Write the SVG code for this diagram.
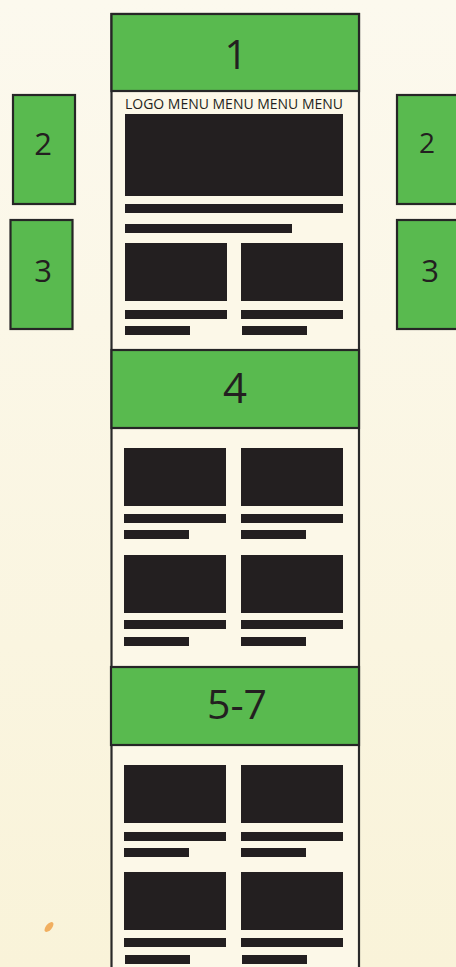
<svg xmlns="http://www.w3.org/2000/svg" width="456" height="967" viewBox="0 0 456 967">
<defs>
<linearGradient id="bg" x1="0" y1="0" x2="0" y2="1">
<stop offset="0" stop-color="#fcf9ee"/>
<stop offset="1" stop-color="#f9f3d9"/>
</linearGradient>
<style>
.box{fill:#59ba4f;stroke:#262626;stroke-width:2.2}
.panel{fill:#fcf8e8;stroke:#2a2a2a;stroke-width:2.2}
.blk{fill:#231f20}
.num{font-family:"Open Sans","Noto Sans",sans-serif;fill:#231f20;text-anchor:middle}
.lbl{font-family:"Open Sans","Noto Sans",sans-serif;fill:#231f20;font-size:15px}
</style>
</defs>
<rect x="0" y="0" width="456" height="967" fill="url(#bg)"/>
<ellipse cx="49" cy="927" rx="3" ry="6" transform="rotate(40 49 927)" fill="#f0a24a" opacity="0.85"/>

<g id="page">
<rect class="panel" x="111.5" y="14" width="247.5" height="960"/>
</g>

<g id="header-1">
<rect class="box" x="111.5" y="14" width="247.5" height="77"/>
<text class="num" x="236" y="69" font-size="40">1</text>
</g>

<g id="section-1-content">
<text class="lbl" x="125" y="109" textLength="218" lengthAdjust="spacingAndGlyphs">LOGO MENU MENU MENU MENU</text>
<rect class="blk" x="125" y="114" width="218" height="82"/>
<rect class="blk" x="125" y="204" width="218" height="9"/>
<rect class="blk" x="125" y="224" width="167" height="9"/>
<rect class="blk" x="125" y="243" width="102" height="58"/>
<rect class="blk" x="241" y="243" width="102" height="58"/>
<rect class="blk" x="125" y="310" width="102" height="9"/>
<rect class="blk" x="241" y="310" width="102" height="9"/>
<rect class="blk" x="125" y="326" width="65" height="9"/>
<rect class="blk" x="242" y="326" width="65" height="9"/>
</g>

<g id="left-2">
<rect class="box" x="13" y="95" width="62" height="109"/>
<text class="num" x="43" y="155" font-size="31">2</text>
</g>
<g id="left-3">
<rect class="box" x="10.5" y="220" width="62" height="109"/>
<text class="num" x="43" y="282" font-size="31">3</text>
</g>
<g id="right-2">
<rect class="box" x="397" y="95" width="62" height="109"/>
<text class="num" x="427" y="153" font-size="28">2</text>
</g>
<g id="right-3">
<rect class="box" x="397" y="220" width="62" height="109"/>
<text class="num" x="430" y="282" font-size="31">3</text>
</g>

<g id="header-4">
<rect class="box" x="111.5" y="350" width="247.5" height="78"/>
<text class="num" x="235" y="403" font-size="42">4</text>
</g>

<g id="section-4-content">
<rect class="blk" x="124" y="448" width="102" height="58"/>
<rect class="blk" x="241" y="448" width="102" height="58"/>
<rect class="blk" x="124" y="514" width="102" height="9"/>
<rect class="blk" x="241" y="514" width="102" height="9"/>
<rect class="blk" x="124" y="530" width="65" height="9"/>
<rect class="blk" x="241" y="530" width="65" height="9"/>
<rect class="blk" x="124" y="555" width="102" height="58"/>
<rect class="blk" x="241" y="555" width="102" height="58"/>
<rect class="blk" x="124" y="620" width="102" height="9"/>
<rect class="blk" x="241" y="620" width="102" height="9"/>
<rect class="blk" x="124" y="637" width="65" height="9"/>
<rect class="blk" x="241" y="637" width="65" height="9"/>
</g>

<g id="header-5-7">
<rect class="box" x="111" y="667" width="248" height="78"/>
<text class="num" x="237" y="719" font-size="41">5-7</text>
</g>

<g id="section-5-7-content">
<rect class="blk" x="124" y="765" width="102" height="58"/>
<rect class="blk" x="241" y="765" width="102" height="58"/>
<rect class="blk" x="124" y="832" width="102" height="9"/>
<rect class="blk" x="241" y="832" width="102" height="9"/>
<rect class="blk" x="124" y="848" width="65" height="9"/>
<rect class="blk" x="241" y="848" width="65" height="9"/>
<rect class="blk" x="124" y="872" width="102" height="58"/>
<rect class="blk" x="241" y="872" width="102" height="58"/>
<rect class="blk" x="124" y="938" width="102" height="9"/>
<rect class="blk" x="241" y="938" width="102" height="9"/>
<rect class="blk" x="125" y="955" width="65" height="9"/>
<rect class="blk" x="242" y="955" width="65" height="9"/>
</g>
</svg>
